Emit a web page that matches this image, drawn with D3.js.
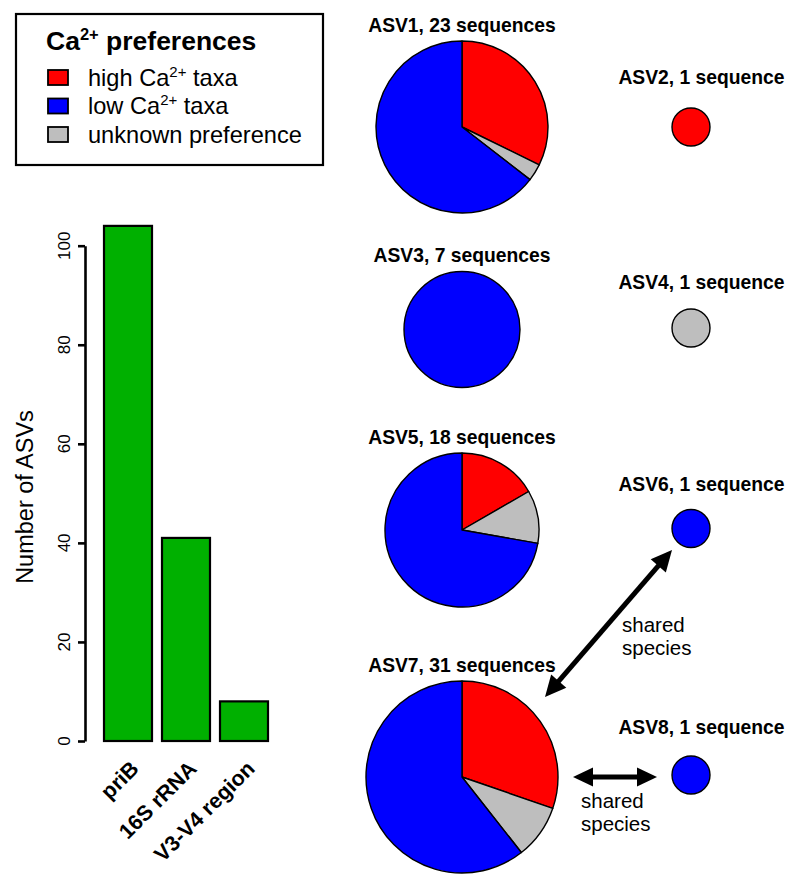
<!DOCTYPE html>
<html>
<head>
<meta charset="utf-8">
<script src="https://cdn.jsdelivr.net/npm/d3@7"></script>
<style>
  html, body { margin: 0; padding: 0; background: #fff; }
  svg { display: block; font-family: "Liberation Sans", Arial, Helvetica, sans-serif; }
</style>
</head>
<body>
<svg id="chart" width="800" height="887"></svg>
<script>
// ---------------- DATA ----------------
const markers = ["priB", "16S rRNA", "V3-V4 region"];
const asvCounts = [104, 41, 8];
const yTicks = [0, 20, 40, 60, 80, 100];

const asvNames = ["ASV1", "ASV2", "ASV3", "ASV4", "ASV5", "ASV6", "ASV7", "ASV8"];
const sequenceCounts = [23, 1, 7, 1, 18, 1, 31, 1];
const highCaTaxa = [10, 1, 0, 0, 3, 0, 10, 0];
const unknownPref = [1, 0, 0, 1, 2, 0, 3, 0];
const lowCaTaxa = [20, 0, 7, 0, 13, 1, 20, 1];

const prefCategories = ["high Ca²⁺ taxa", "low Ca²⁺ taxa", "unknown preference"];
const sharedLabel = ["shared", "species"];

// ---------------- STYLE / LAYOUT ----------------
const colHigh = "#FF0000", colLow = "#0000FF", colUnk = "#BEBEBE", colBar = "#00B000";

const svg = d3.select("#chart");

// ---------------- LEGEND ----------------
const leg = svg.append("g");
leg.append("rect").attr("x", 16).attr("y", 14).attr("width", 307).attr("height", 151)
  .attr("fill", "none").attr("stroke", "#000").attr("stroke-width", 2.2);
const lt = leg.append("text").attr("x", 46).attr("y", 50)
  .attr("font-size", 26.5).attr("font-weight", "bold").attr("fill", "#000");
lt.append("tspan").text("Ca");
lt.append("tspan").attr("font-size", 16.5).attr("dy", -10).text("2+");
lt.append("tspan").attr("dy", 10).text(" preferences");

const legFill = [colHigh, colLow, colUnk];
const legParts = [["high Ca", "2+", " taxa"], ["low Ca", "2+", " taxa"], ["unknown preference", "", ""]];
legParts.forEach((p, i) => {
  const yy = 70 + i * 28.5;
  leg.append("rect").attr("x", 48).attr("y", yy).attr("width", 20).attr("height", 15)
    .attr("fill", legFill[i]).attr("stroke", "#000").attr("stroke-width", 1.8);
  const t = leg.append("text").attr("x", 88).attr("y", yy + 15.5)
    .attr("font-size", 23.6).attr("fill", "#000");
  t.append("tspan").text(p[0]);
  if (p[1]) {
    t.append("tspan").attr("font-size", 15).attr("dy", -9).text(p[1]);
    t.append("tspan").attr("dy", 9).text(p[2]);
  }
});

// ---------------- BAR CHART ----------------
const y = d3.scaleLinear().domain([0, 100]).range([741, 245.7]);
const x = d3.scaleBand().domain(markers).range([99, 273]).paddingInner(10 / 58).paddingOuter(5 / 58);

const barG = svg.append("g");
barG.selectAll("rect.bar").data(markers).join("rect").attr("class", "bar")
  .attr("x", d => x(d)).attr("width", x.bandwidth())
  .attr("y", (d, i) => y(asvCounts[i]))
  .attr("height", (d, i) => y(0) - y(asvCounts[i]))
  .attr("fill", colBar).attr("stroke", "#000").attr("stroke-width", 2.2);

const axisG = svg.append("g").attr("transform", "translate(85,0)")
  .call(d3.axisLeft(y).tickValues(yTicks).tickSize(7).tickSizeOuter(0).tickFormat(""));
axisG.select(".domain").attr("stroke", "#000").attr("stroke-width", 2.6);
axisG.selectAll(".tick line").attr("stroke", "#000").attr("stroke-width", 2.6);

svg.append("g").selectAll("text").data(yTicks).join("text")
  .attr("transform", d => `translate(70,${y(d)}) rotate(-90)`)
  .attr("text-anchor", "middle").attr("font-size", 17).attr("fill", "#000")
  .text(d => d);

svg.append("text").attr("transform", "translate(33,497) rotate(-90)")
  .attr("text-anchor", "middle").attr("font-size", 23.5).attr("fill", "#000")
  .text("Number of ASVs");

svg.append("g").selectAll("text").data(markers).join("text")
  .attr("transform", d => `translate(${x(d) + x.bandwidth() / 2 + 12},770) rotate(-45)`)
  .attr("text-anchor", "end").attr("font-size", 21.5).attr("font-weight", "bold").attr("fill", "#000")
  .text(d => d);

// ---------------- PIES ----------------
const rScale = d3.scaleLinear().domain([1, 7, 18, 23, 31]).range([19, 58, 77, 86, 96]);
const colX = [462, 691];
const rowY = [[127, 127], [329.5, 328], [530, 528.5], [777, 775]];
const rightLabelY = [83.5, 288.5, 491, 734];

const pie = d3.pie().sort(null).value(d => d.v).startAngle(0).endAngle(2 * Math.PI);

asvNames.forEach((name, i) => {
  const row = Math.floor(i / 2), col = i % 2;
  const cx = colX[col], cy = rowY[row][col];
  const r = rScale(sequenceCounts[i]);
  const slices = [
    { v: highCaTaxa[i], c: colHigh },
    { v: unknownPref[i], c: colUnk },
    { v: lowCaTaxa[i], c: colLow }
  ].filter(s => s.v > 0);
  const g = svg.append("g").attr("transform", `translate(${cx},${cy})`);
  if (slices.length === 1) {
    g.append("circle").attr("r", r).attr("fill", slices[0].c)
      .attr("stroke", "#000").attr("stroke-width", 1.4);
  } else {
    const arc = d3.arc().innerRadius(0).outerRadius(r);
    g.selectAll("path").data(pie(slices)).join("path")
      .attr("d", arc).attr("fill", d => d.data.c)
      .attr("stroke", "#000").attr("stroke-width", 1.4).attr("stroke-linejoin", "round");
  }
  const label = `${name}, ${sequenceCounts[i]} ${sequenceCounts[i] === 1 ? "sequence" : "sequences"}`;
  const ly = col === 0 ? cy - r - 9.5 : rightLabelY[row];
  const lx = col === 0 ? cx : cx + 10.5;
  svg.append("text").attr("x", lx).attr("y", ly).attr("text-anchor", "middle")
    .attr("font-size", 19.3).attr("font-weight", "bold").attr("fill", "#000").text(label);
});

// ---------------- ARROWS ----------------
function doubleArrow(x1, y1, x2, y2, hl, hw, lw) {
  const dx = x2 - x1, dy = y2 - y1, L = Math.hypot(dx, dy);
  const ux = dx / L, uy = dy / L, px = -uy, py = ux;
  const g = svg.append("g");
  g.append("line")
    .attr("x1", x1 + ux * (hl - 2)).attr("y1", y1 + uy * (hl - 2))
    .attr("x2", x2 - ux * (hl - 2)).attr("y2", y2 - uy * (hl - 2))
    .attr("stroke", "#000").attr("stroke-width", lw);
  const head = (tx, ty, sx, sy) => {
    const bx = tx + sx * hl, by = ty + sy * hl;
    return `M${tx},${ty}L${bx + px * hw},${by + py * hw}L${bx - px * hw},${by - py * hw}Z`;
  };
  g.append("path").attr("d", head(x1, y1, ux, uy)).attr("fill", "#000");
  g.append("path").attr("d", head(x2, y2, -ux, -uy)).attr("fill", "#000");
}
doubleArrow(545, 697, 672, 550, 21, 10, 5);
doubleArrow(573, 777, 657, 777, 20, 9.5, 5);

function sharedText(x0, y0) {
  sharedLabel.forEach((s, k) => {
    svg.append("text").attr("x", x0).attr("y", y0 + k * 23).attr("font-size", 20.5)
      .attr("fill", "#000").text(s);
  });
}
sharedText(622, 632);
sharedText(581, 808);
</script>
</body>
</html>
